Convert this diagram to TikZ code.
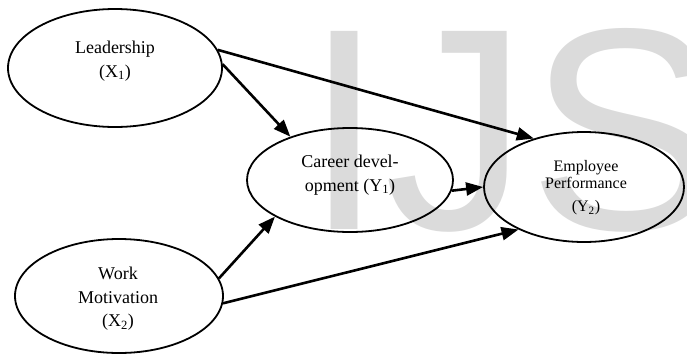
\documentclass[tikz,border=0pt]{standalone}
\usepackage{fontspec}
\setmainfont{Liberation Serif}
\newfontfamily\marksans{Liberation Sans}
\usetikzlibrary{shapes.geometric,arrows.meta}

\tikzset{
  construct/.style={draw, ellipse, line width=1.8pt, inner sep=0pt},
  path arrow/.style={line width=2.6pt, -{Triangle[length=17pt,width=13pt]}},
  bigtext/.style={align=center, inner sep=0pt, font=\fontsize{18}{24}\selectfont},
  smalltext/.style={align=center, inner sep=0pt, font=\fontsize{16}{17}\selectfont},
  watermark/.style={anchor=base west, inner sep=0pt, text=black!14,
    font=\marksans\fontsize{288}{300}\selectfont}
}

\begin{document}
\begin{tikzpicture}[x=1pt, y=-1pt]
  \clip (0,0) rectangle (687,354);

  % background lettering
  \node[watermark] (wm) at (304,229) {IJS};

  % latent constructs
  \node[construct, minimum width=214pt, minimum height=118pt] (L) at (115,68) {};
  \node[construct, minimum width=206pt, minimum height=104pt] (C) at (350,180) {};
  \node[construct, minimum width=200pt, minimum height=110pt] (E) at (584,187) {};
  \node[construct, minimum width=208pt, minimum height=114pt] (W) at (119,296) {};

  % construct labels
  \node[bigtext] (Lt) at (115,61) {Leadership\\(X\textsubscript{1})};
  \node[bigtext] (Ct) at (350,175) {Career devel-\\opment (Y\textsubscript{1})};
  \node[bigtext, font=\fontsize{18}{23.5}\selectfont] (Wt) at (118,299) {Work\\Motivation\\(X\textsubscript{2})};
  \node[smalltext] (Et) at (586,188) {Employee\\Performance\\[6pt](Y\textsubscript{2})};

  % hypothesised paths
  \draw[path arrow] (L.2)   -- (C.144);
  \draw[path arrow] (L.10)  -- (E.136);
  \draw[path arrow] (C.-6)  -- (E.180);
  \draw[path arrow] (W.10)  -- (C.206);
  \draw[path arrow] (W.-4)  -- (E.213);
\end{tikzpicture}
\end{document}
